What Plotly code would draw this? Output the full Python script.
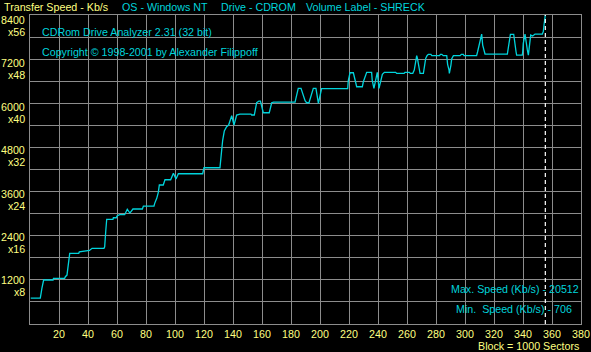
import plotly.graph_objects as go

# ---- data (block number in 1000-sector units, transfer speed in Kb/s) ----
x_block = [0.5, 7.1, 8.2, 9.4, 15.9, 16.2, 23.9, 24.4, 25.5, 26.5, 27.4, 33.6, 34.0, 41.0,
           42.8, 51.0, 51.5, 52.2, 52.9, 57.2, 57.5, 59.5, 60.0, 61.8, 65.3, 67.1, 68.9,
           71.0, 77.5, 78.2, 85.5, 86.0, 87.4, 88.5, 89.2, 91.9, 92.5, 93.1, 97.0, 97.7,
           98.9, 100.7, 102.3, 119.1, 120.0, 131.0, 131.5, 132.2, 132.9, 134.0, 135.6,
           137.0, 139.1, 140.7, 142.5, 144.8, 152.4, 152.9, 154.7, 156.3, 157.9, 158.9,
           160.9, 165.0, 166.7, 168.0, 182.8, 185.0, 186.9, 189.7, 190.8, 192.4, 195.4,
           197.2, 198.9, 201.1, 219.1, 219.5, 220.7, 223.0, 225.3, 229.2, 229.9, 231.0,
           232.2, 235.6, 236.0, 237.2, 238.4, 239.5, 240.7, 242.0, 243.0, 244.4, 252.2,
           252.9, 258.0, 258.6, 261.6, 262.3, 264.0, 265.0, 266.7, 267.2, 268.3, 269.0,
           271.3, 272.0, 272.9, 273.8, 274.7, 276.5, 277.1, 282.5, 283.0, 284.0, 285.0,
           287.4, 288.0, 289.0, 289.2, 290.3, 290.8, 292.0, 296.6, 297.5, 298.8, 299.3,
           308.0, 308.7, 309.9, 311.0, 311.5, 312.2, 313.1, 313.8, 329.2, 330.2, 330.6,
           331.3, 333.6, 334.0, 334.5, 335.2, 335.6, 339.5, 339.8, 340.2, 341.4, 342.3,
           343.0, 343.7, 344.3, 344.8, 345.3, 346.7, 348.3, 353.3, 354.0, 354.5, 355.0,
           355.4]
speed_kbs = [706, 706, 970, 1196, 1196, 1242, 1242, 1286, 1330, 1700, 1921, 1921, 1960, 1998,
             2057, 2057, 2100, 2500, 2846, 2846, 2889, 2889, 2935, 2971, 2971, 3117, 3017,
             3126, 3126, 3207, 3207, 3280, 3416, 3579, 3778, 3778, 3851, 3922, 3922, 4004,
             4096, 3941, 4085, 4085, 4248, 4248, 4395, 4729, 5001, 5246, 5363,
             5409, 5662, 5409, 5681, 5708, 5708, 5681, 5681, 6015, 6061, 6061,
             5743, 5743, 6015, 6034, 6034, 6406, 6406, 6070, 6015, 6015, 6406,
             6406, 5998, 6396, 6396, 6613, 6830, 6830, 6450, 6450, 6586, 6722,
             6841, 6841, 6632, 6406, 6632, 6841, 6406, 6586, 6786, 6841, 6841,
             6813, 6813, 6841, 6841, 6813, 6813, 6904, 7293, 7222, 6904, 6813,
             6813, 7040, 7222, 7293, 7331, 7331, 7293, 7293, 7331, 7331, 7293,
             7293, 7059, 6904, 6813, 7040, 7203, 7293, 7293, 7331, 7331, 7293,
             7293, 7401, 7610, 7882, 7882, 7583, 7429, 7339, 7339, 7583, 7765,
             7873, 7873, 7719, 7583, 7401, 7311, 7311, 7401, 7629, 7882, 7583,
             7450, 7311, 7583, 7738, 7855, 7828, 7882, 7882, 7946, 8127, 8282,
             8400]

x_tick_vals = list(range(20, 381, 20))
x_tick_text = [str(v) for v in x_tick_vals]
y_grid_vals = list(range(0, 8401, 600))
y_label_vals = [1200, 2400, 3600, 4800, 6000, 7200, 8400]
y_label_text = ["1200", "2400", "3600", "4800", "6000", "7200", "8400"]
y_mult_text = ["x8", "x16", "x24", "x32", "x40", "x48", "x56"]

header_title = "Transfer Speed - Kb/s"
header_info = ["OS - Windows NT", "Drive - CDROM", "Volume Label - SHRECK"]
program_name = "CDRom Drive Analyzer 2.31 (32 bit)"
copyright_text = "Copyright © 1998-2001 by Alexander Filippoff"
max_text = "Max. Speed (Kb/s) - 20512"
min_text = "Min.  Speed (Kb/s) - 706"
block_text = "Block = 1000 Sectors"

# ---- styling ----
W, H = 591, 352
L, R, T, B = 30, 581, 15, 324
CYAN = "#00d4dc"
YELLOW = "#ffff80"
GRID = "#8c8c8c"
FONT = "Liberation Sans"
FS = 10.7


def px_x(px):
    return (px - L) / (R - L)


def px_y(py):
    return (B - py) / (B - T)


fig = go.Figure()
fig.add_trace(go.Scatter(x=x_block, y=speed_kbs, mode="lines",
                         line=dict(color=CYAN, width=1.3), hoverinfo="skip"))

end_block = x_block[-1]
fig.add_shape(type="line", xref="x", yref="y", x0=end_block, x1=end_block,
              y0=0, y1=y_grid_vals[-1], line=dict(color="white", width=1.2, dash="4px,3px"))

ann = []


def txt(text, px, py, color, anchor="left"):
    ann.append(dict(text=text, xref="paper", yref="paper", x=px_x(px), y=px_y(py),
                    xanchor=anchor, yanchor="middle", showarrow=False,
                    font=dict(color=color, size=FS, family=FONT)))


txt(header_title, 2, 7, YELLOW)
for t, px in zip(header_info, [120, 219, 304]):
    txt(t, px, 7, CYAN)
txt(program_name, 40, 32, CYAN)
txt(copyright_text, 40, 52, CYAN)
txt(max_text, 581, 289, CYAN, "right")
txt(min_text, 454, 309, CYAN)
txt(block_text, 581, 346, YELLOW, "right")

for v, t, m in zip(y_label_vals, y_label_text, y_mult_text):
    gy = B - v / y_grid_vals[-1] * (B - T)
    shift = 0.6 + (v - 1200) / 7200 * 4.4
    txt(t, 27, gy + shift, YELLOW, "right")
    txt(m, 27, gy + shift + 12, YELLOW, "right")

fig.update_layout(
    width=W, height=H,
    margin=dict(l=L, r=W - R, t=T, b=H - B, pad=0, autoexpand=False),
    paper_bgcolor="black", plot_bgcolor="black",
    showlegend=False,
    annotations=ann,
    xaxis=dict(range=[0, 380], tickvals=x_tick_vals, ticktext=x_tick_text,
               showgrid=True, gridcolor=GRID, gridwidth=1, zeroline=False,
               showline=True, linecolor=GRID, linewidth=1, mirror=True, automargin=False,
               ticks="", tickfont=dict(color=YELLOW, size=FS, family=FONT)),
    yaxis=dict(range=[0, 8400], tickvals=y_grid_vals, showticklabels=False,
               showgrid=True, gridcolor=GRID, gridwidth=1, zeroline=False, automargin=False,
               showline=True, linecolor=GRID, linewidth=1, mirror=True, ticks=""),
)

fig.write_html("out.html")
